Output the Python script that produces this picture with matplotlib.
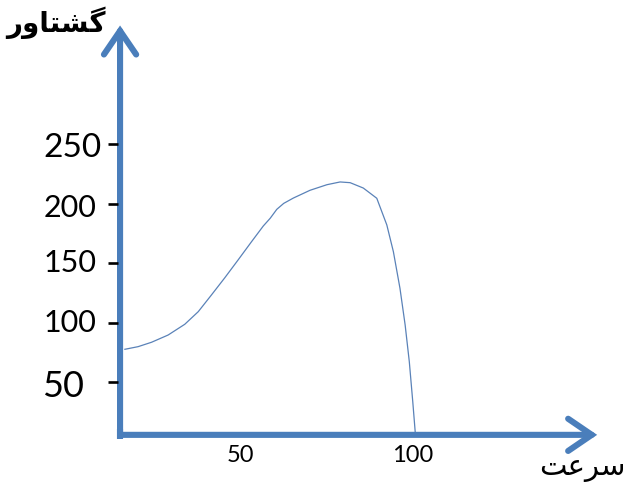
import matplotlib
matplotlib.use("Agg")
import matplotlib.pyplot as plt
from matplotlib.patches import FancyArrowPatch

# ---- data ----
speed = [16.7, 20.5, 24.4, 29.2, 34.0, 37.9, 41.7, 45.6, 49.4, 53.3, 56.7,
         58.7, 60.6, 62.6, 65.4, 70.2, 75.1, 78.9, 81.8, 85.6, 89.5, 92.4,
         94.3, 96.2, 97.7, 98.9, 99.9, 100.6]
torque = [77.9, 80.1, 83.8, 89.9, 98.9, 109.5, 123.5, 138.1, 152.9, 168.3,
          181.5, 188.0, 195.5, 200.5, 205.0, 211.5, 216.2, 218.5, 217.9, 213.4,
          204.8, 182.4, 159.9, 129.2, 98.3, 67.5, 33.9, 8.7]
ytick_values = [250, 200, 150, 100, 50]
ytick_labels = ["250", "200", "150", "100", "50"]
xtick_values = [50, 100]
xtick_labels = ["50", "100"]
y_title = "گشتاور"
x_title = "سرعت"

# ---- simple Arabic-script shaping for display ----
FORMS = {
    'گ': ('\uFB92', '\uFB93', '\uFB94', '\uFB95'),
    'ش': ('\uFEB5', '\uFEB6', '\uFEB7', '\uFEB8'),
    'ت': ('\uFE95', '\uFE96', '\uFE97', '\uFE98'),
    'ا': ('\uFE8D', '\uFE8E', None, None),
    'و': ('\uFEED', '\uFEEE', None, None),
    'ر': ('\uFEAD', '\uFEAE', None, None),
    'س': ('\uFEB1', '\uFEB2', '\uFEB3', '\uFEB4'),
    'ع': ('\uFEC9', '\uFECA', '\uFECB', '\uFECC'),
}


def shape(s):
    out = []
    for i, c in enumerate(s):
        f = FORMS.get(c)
        if f is None:
            out.append(c)
            continue
        prev = s[i - 1] if i > 0 else None
        nxt = s[i + 1] if i + 1 < len(s) else None
        jp = prev in FORMS and FORMS[prev][2] is not None
        jn = nxt in FORMS and f[2] is not None
        if jp and jn:
            g = f[3]
        elif jp:
            g = f[1]
        elif jn:
            g = f[2]
        else:
            g = f[0]
        out.append(g)
    return ''.join(reversed(out))


AXIS_BLUE = '#4a7ebb'
CURVE_BLUE = '#5a82b8'

fig = plt.figure(figsize=(6.29, 4.84), dpi=100)
ax = fig.add_axes([0, 0, 1, 1])
ax.set_xlim(-19.4, 162.4)
ax.set_ylim(-35.3, 371.4)
ax.axis('off')

x0, y0 = 15.3, 6.0

# axes with arrows
for end in [(x0, 350.0), (153.2, y0)]:
    arr = FancyArrowPatch((x0, y0), end,
                          arrowstyle='->,head_length=0.85,head_width=0.58',
                          mutation_scale=20, lw=4.4, color=AXIS_BLUE,
                          shrinkA=0, shrinkB=0, capstyle='round', joinstyle='miter')
    ax.add_patch(arr)
ax.plot([x0, x0], [y0 - 3.5, y0 + 5], color=AXIS_BLUE, lw=4.4, solid_capstyle='butt')

# curve
ax.plot(speed, torque, color=CURVE_BLUE, lw=0.9)

# y ticks & labels
lab_sizes = [24, 22, 22, 22, 26]
lab_right = [9.9, 8.4, 8.4, 8.4, 4.9]
lab_base = [239.5, 189.1, 142.9, 92.4, 37.8]
for v, t, s, r, b in zip(ytick_values, ytick_labels, lab_sizes, lab_right, lab_base):
    ax.plot([11.7, 14.6], [v, v], color='black', lw=1.9, solid_capstyle='butt')
    ax.text(r, b, t, ha='right', va='baseline', fontsize=s,
            family='Lato', color='black')

# x tick labels
for v, t in zip(xtick_values, xtick_labels):
    ax.text(v, -16.5, t, ha='center', va='baseline', fontsize=17,
            family='Lato', color='black')

# titles
ax.text(-3.2, 344.5, shape(y_title), ha='center', va='baseline', fontsize=20,
        family='DejaVu Sans', fontweight='bold', color='black')
ax.text(136.5, -28.0, shape(x_title), ha='left', va='baseline', fontsize=21,
        family='DejaVu Sans', color='black')

fig.savefig('out.png', dpi=100)
